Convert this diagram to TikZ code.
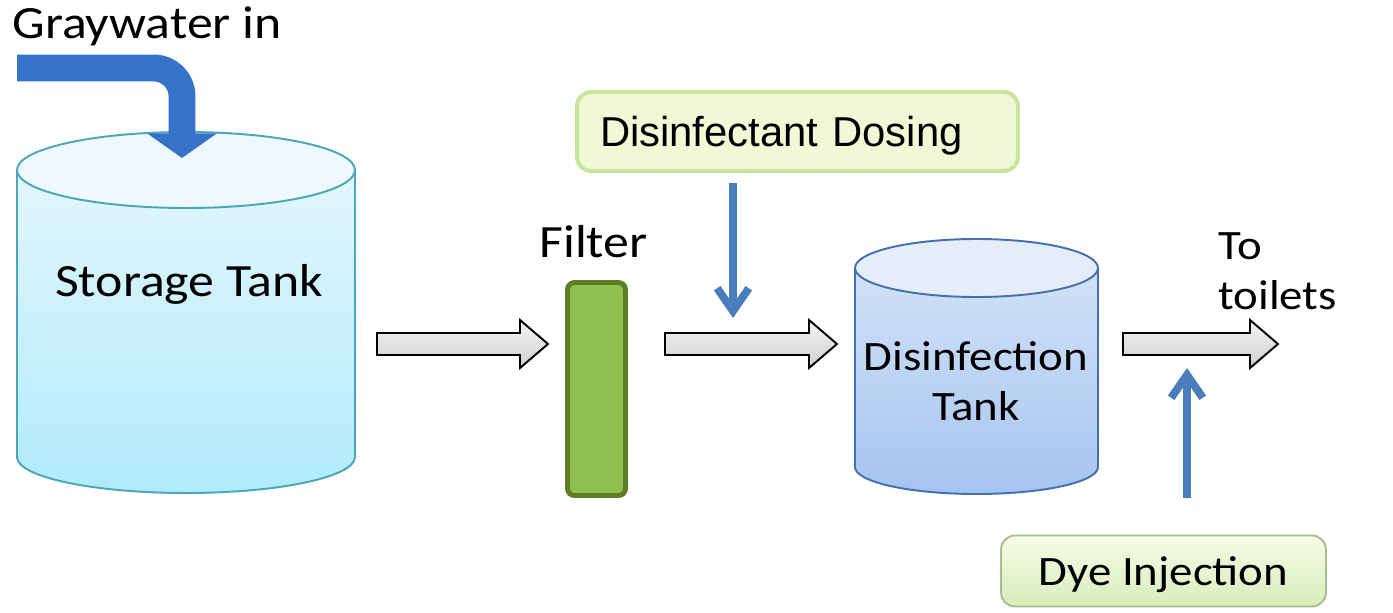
\documentclass[tikz,border=0pt]{standalone}
\usepackage{fontspec}
\setmainfont{Carlito}[FakeStretch=1.12]
\newfontfamily\arialfont{Liberation Sans}
\usetikzlibrary{arrows.meta, shadings}

\definecolor{inflow}{HTML}{3572C8}
\definecolor{feedblue}{HTML}{4A7EBB}
\definecolor{storeline}{HTML}{4AA6B8}
\definecolor{storecap}{HTML}{EDF9FD}
\definecolor{storetop}{HTML}{E2F6FC}
\definecolor{storebot}{HTML}{B1EBFB}
\definecolor{disline}{HTML}{4470B0}
\definecolor{discap}{HTML}{E4EDF9}
\definecolor{distop}{HTML}{D2E2F7}
\definecolor{disbot}{HTML}{A5C4F0}
\definecolor{filterfill}{HTML}{92C050}
\definecolor{filterline}{HTML}{5D7D26}
\definecolor{boxfill}{HTML}{F1F8D6}
\definecolor{boxline}{HTML}{C6E59F}

\begin{document}
\begin{tikzpicture}[x=0.02cm, y=-0.02cm,
    lbl/.style={inner sep=0pt, font=\fontsize{23.8}{28.6}\selectfont},
    biglbl/.style={inner sep=0pt, font=\fontsize{26.3}{31.5}\selectfont},
    flow/.style={draw=black, line width=1.1pt, top color=gray!8, bottom color=gray!38},
    feed/.style={draw=feedblue, line width=4.5pt, -{Straight Barb[length=13pt,width=18pt]}},
    notebox/.style={rounded corners=8pt, text depth=0pt, inner sep=0pt}]
\useasboundingbox (0,0) rectangle (1393,612);

% storage tank
\fill[top color=storetop, bottom color=storebot] (17,170) -- (17,457)
    arc[start angle=180, end angle=0, x radius=169, y radius=36] -- (355,170) -- cycle;
\draw[storeline, line width=1.1pt] (17,170) -- (17,457)
    arc[start angle=180, end angle=0, x radius=169, y radius=36] -- (355,170);
\draw[storeline, line width=1.1pt, fill=storecap] (186,170) ellipse [x radius=169, y radius=38];
\node[biglbl, anchor=base] (store) at (189,296) {Storage Tank};

% graywater inflow
\node[biglbl, anchor=base west] (gray) at (12,38) {Graywater in};
\draw[inflow, line width=15.3pt, rounded corners=16pt, -{Triangle[length=14pt,width=39pt]}]
    (17,68) -- (182,68) -- (182,158);

% disinfection tank
\fill[top color=distop, bottom color=disbot] (855,268) -- (855,467)
    arc[start angle=180, end angle=0, x radius=121.5, y radius=27] -- (1098,268) -- cycle;
\draw[disline, line width=1.1pt] (855,268) -- (855,467)
    arc[start angle=180, end angle=0, x radius=121.5, y radius=27] -- (1098,268);
\draw[disline, line width=1.1pt, fill=discap] (976.5,268) ellipse [x radius=121.5, y radius=29];
\node[lbl, align=center, text depth=0pt] (distank) at (976,381) {Disinfection\\Tank};

% flow arrows
\foreach \xa/\xb in {377/548, 665/837, 1123/1278}
    \draw[flow] (\xa,333) -- (\xb-28,333) -- (\xb-28,320) -- (\xb,344)
        -- (\xb-28,368) -- (\xb-28,355) -- (\xa,355) -- cycle;

% filter
\node[draw=filterline, fill=filterfill, line width=2.8pt, rounded corners=4pt,
    minimum width=1.16cm, minimum height=4.26cm] (filt) at (596.5,389) {};
\node[biglbl, anchor=base] (filtlbl) at (593.5,257) {Filter};

% dosing and dye
\node[notebox, draw=boxline, fill=boxfill, line width=2.3pt,
    minimum width=8.82cm, minimum height=1.58cm, text width=7.9cm, align=left,
    font=\arialfont\fontsize{23.8}{28.6}\selectfont] (dose) at (797.5,131.5) {Disinfectant Dosing};
\node[notebox, draw=boxline!80!black!90, top color=boxfill!60!white, bottom color=boxline!70,
    line width=1.1pt, minimum width=6.5cm, minimum height=1.42cm,
    font=\fontsize{23.8}{28.6}\selectfont] (dye) at (1163.5,571) {Dye Injection};

\coordinate (doseIn) at (733,318);
\coordinate (dyeIn) at (1187,368);
\draw[feed] (dose.south -| doseIn) ++(0,10) -- (doseIn);
\draw[feed] (dye.north -| dyeIn) ++(0,-37) -- (dyeIn);

\node[lbl, anchor=west, align=left] (toilets) at (1218,271) {To\\toilets};
\end{tikzpicture}
\end{document}
